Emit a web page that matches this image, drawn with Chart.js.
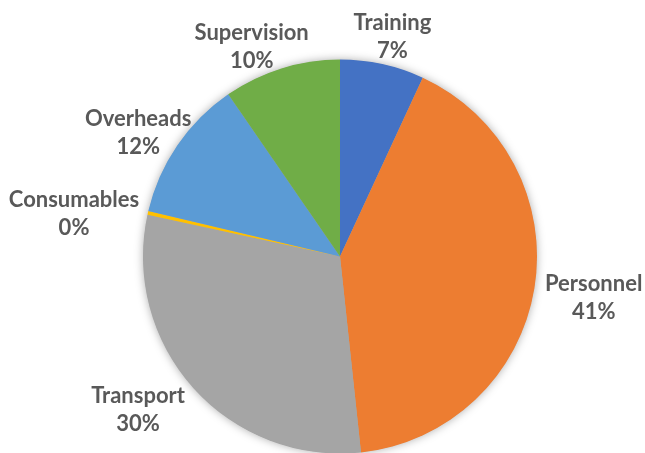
<!DOCTYPE html>
<html>
<head>
<meta charset="utf-8">
<script src="https://cdn.jsdelivr.net/npm/chart.js@4.4.1/dist/chart.umd.min.js"></script>
<style>
html,body{margin:0;padding:0;background:#fff;}
#wrap{width:645px;height:453px;position:relative;}
</style>
</head>
<body>
<div id="wrap"><canvas id="c" width="645" height="453"></canvas></div>
<script>
const categories = ["Training", "Personnel", "Transport", "Consumables", "Overheads", "Supervision"];
const values = [6.9, 41.4, 30.1, 0.3, 11.7, 9.6];
const percentLabels = ["7%", "41%", "30%", "0%", "12%", "10%"];
const colors = ["#4472C4", "#ED7D31", "#A5A5A5", "#FFC000", "#5B9BD5", "#70AD47"];

// small per-label nudges (px) applied after geometric placement
const labelNudge = [[7, 5], [6, 8], [-25, 5], [-6, 4], [2, 0], [-23, 10]];

const shadowPlugin = {
  id: 'pieShadow',
  beforeDatasetsDraw(chart) {
    const meta = chart.getDatasetMeta(0);
    if (!meta.data.length) return;
    const a = meta.data[0];
    const ctx = chart.ctx;
    ctx.save();
    ctx.shadowColor = 'rgba(0,0,0,0.35)';
    ctx.shadowBlur = 10;
    ctx.fillStyle = '#aaaaaa';
    ctx.beginPath();
    ctx.arc(a.x, a.y, a.outerRadius - 0.5, 0, Math.PI * 2);
    ctx.fill();
    ctx.restore();
  }
};

const labelPlugin = {
  id: 'outsideLabels',
  afterDatasetsDraw(chart) {
    const ctx = chart.ctx;
    const meta = chart.getDatasetMeta(0);
    ctx.save();
    ctx.font = 'bold 22px Lato, "Open Sans", sans-serif';
    ctx.fillStyle = '#595959';
    ctx.textAlign = 'center';
    ctx.textBaseline = 'middle';
    const lineH = 28;
    meta.data.forEach((arc, i) => {
      const mid = (arc.startAngle + arc.endAngle) / 2;
      const dx = Math.cos(mid), dy = Math.sin(mid);
      const lines = [categories[i], percentLabels[i]];
      const w = Math.max(...lines.map(t => ctx.measureText(t).width));
      const h = lineH * 2;
      const gap = 6;
      const cx = arc.x + dx * (arc.outerRadius + gap + Math.abs(dx) * w / 2);
      const cy = arc.y + dy * (arc.outerRadius + gap + Math.abs(dy) * h / 2);
      const nx = cx + labelNudge[i][0];
      const ny = cy + labelNudge[i][1];
      ctx.fillText(lines[0], nx, ny - lineH / 2);
      ctx.fillText(lines[1], nx, ny + lineH / 2);
    });
    ctx.restore();
  }
};

new Chart(document.getElementById('c'), {
  type: 'pie',
  data: {
    labels: categories,
    datasets: [{
      data: values,
      backgroundColor: colors,
      borderWidth: 0,
      radius: 197
    }]
  },
  options: {
    responsive: false,
    animation: false,
    layout: { padding: { top: 60, bottom: 0, left: 143, right: 108 } },
    plugins: { legend: { display: false }, tooltip: { enabled: false } }
  },
  plugins: [shadowPlugin, labelPlugin]
});
</script>
</body>
</html>
